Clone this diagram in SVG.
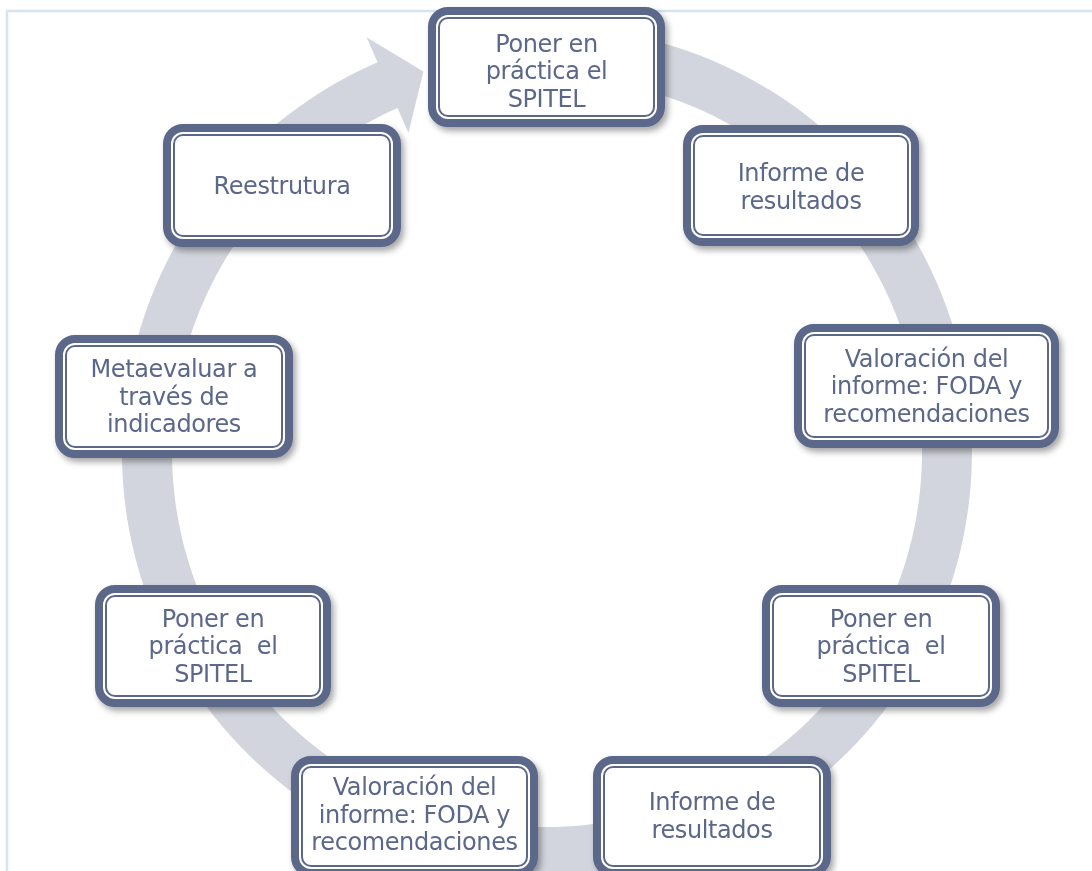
<svg xmlns="http://www.w3.org/2000/svg" width="1092" height="871" viewBox="0 0 1092 871">
<defs>
<filter id="sh" x="-10%" y="-10%" width="125%" height="130%">
<feDropShadow dx="3" dy="4" stdDeviation="3" flood-color="#000" flood-opacity="0.35"/>
</filter>
<style>
.frame{fill:none;stroke:#d6e3f0;stroke-width:2.5}
.ring{fill:#d2d5dd;stroke:none}
.ob{fill:#fff;stroke:#5c6789;stroke-width:8}
.ib{fill:none;stroke:#5c6789;stroke-width:2}
.t{font-family:"DejaVu Sans",Verdana,sans-serif;font-size:24px;letter-spacing:-0.4px;fill:#5c6789;text-anchor:middle;white-space:pre}
</style>
</defs>
<rect width="1092" height="871" fill="#fff"/>
<path class="frame" d="M7 871 V11 H1092"/>
<g id="connectors">
<path class="ring" d="M547 27 A425 425 0 1 1 377.6 62.2 L366.6 37.3 L423.4 71.6 L408.5 133 L397.5 108.1 A375 375 0 1 0 547 77 Z"/>
</g>
<g id="n1" filter="url(#sh)">
<rect class="ob" x="432" y="11" width="229" height="112" rx="16"/>
<rect class="ib" x="439" y="18" width="215" height="98" rx="9"/>
<text class="t" x="546.5" y="51.5">Poner en</text>
<text class="t" x="546.5" y="79">práctica el</text>
<text class="t" x="546.5" y="106.5">SPITEL</text>
</g>
<g id="n2" filter="url(#sh)">
<rect class="ob" x="687" y="129" width="228" height="113" rx="16"/>
<rect class="ib" x="694" y="136" width="214" height="99" rx="9"/>
<text class="t" x="801" y="181">Informe de</text>
<text class="t" x="801" y="208.5">resultados</text>
</g>
<g id="n3" filter="url(#sh)">
<rect class="ob" x="798" y="328" width="257" height="116" rx="16"/>
<rect class="ib" x="805" y="335" width="243" height="102" rx="9"/>
<text class="t" x="926.5" y="366.5">Valoración del</text>
<text class="t" x="926.5" y="394">informe: FODA y</text>
<text class="t" x="926.5" y="421.5">recomendaciones</text>
</g>
<g id="n4" filter="url(#sh)">
<rect class="ob" x="766" y="589" width="230" height="114" rx="16"/>
<rect class="ib" x="773" y="596" width="216" height="100" rx="9"/>
<text class="t" x="881" y="626.5">Poner en</text>
<text class="t" x="881" y="654">práctica  el</text>
<text class="t" x="881" y="681.5">SPITEL</text>
</g>
<g id="n5" filter="url(#sh)">
<rect class="ob" x="597" y="760" width="230" height="113" rx="16"/>
<rect class="ib" x="604" y="767" width="216" height="99" rx="9"/>
<text class="t" x="712" y="810">Informe de</text>
<text class="t" x="712" y="837.5">resultados</text>
</g>
<g id="n6" filter="url(#sh)">
<rect class="ob" x="295" y="760" width="239" height="113" rx="16"/>
<rect class="ib" x="302" y="767" width="225" height="99" rx="9"/>
<text class="t" x="414.5" y="795">Valoración del</text>
<text class="t" x="414.5" y="822.5">informe: FODA y</text>
<text class="t" x="414.5" y="850">recomendaciones</text>
</g>
<g id="n7" filter="url(#sh)">
<rect class="ob" x="99" y="589" width="228" height="114" rx="16"/>
<rect class="ib" x="106" y="596" width="214" height="100" rx="9"/>
<text class="t" x="213" y="626.5">Poner en</text>
<text class="t" x="213" y="654">práctica  el</text>
<text class="t" x="213" y="681.5">SPITEL</text>
</g>
<g id="n8" filter="url(#sh)">
<rect class="ob" x="59" y="339" width="230" height="115" rx="16"/>
<rect class="ib" x="66" y="346" width="216" height="101" rx="9"/>
<text class="t" x="174" y="377">Metaevaluar a</text>
<text class="t" x="174" y="404.5">través de</text>
<text class="t" x="174" y="432">indicadores</text>
</g>
<g id="n9" filter="url(#sh)">
<rect class="ob" x="167" y="128" width="230" height="115" rx="16"/>
<rect class="ib" x="174" y="135" width="216" height="101" rx="9"/>
<text class="t" x="282" y="194">Reestrutura</text>
</g>
</svg>
